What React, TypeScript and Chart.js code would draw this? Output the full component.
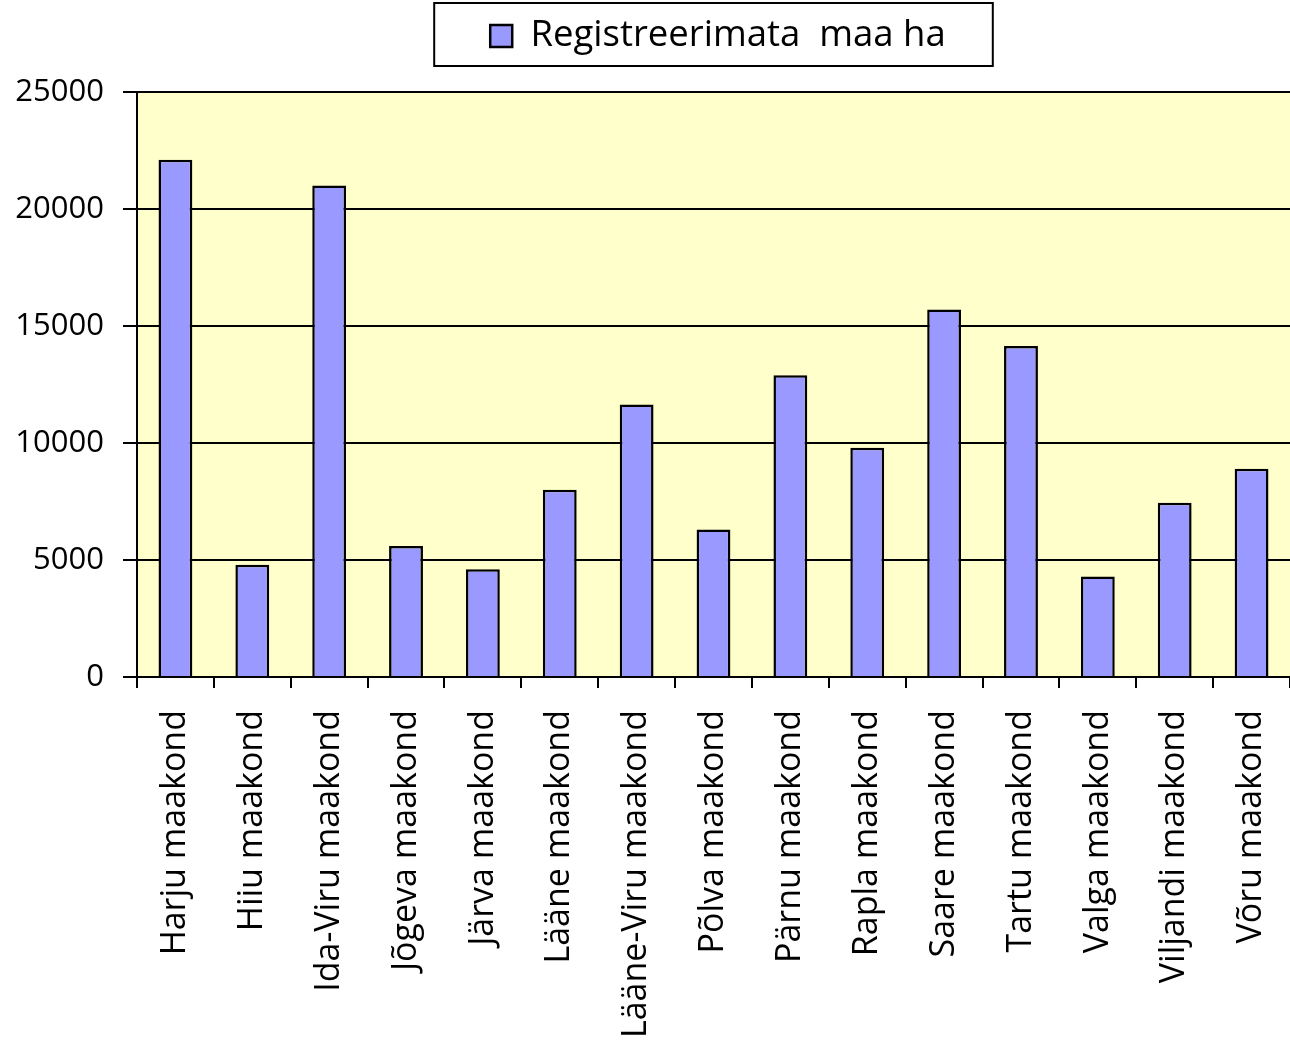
import React, { useEffect, useRef } from "react";
import { Chart, registerables } from "chart.js";

Chart.register(...registerables);

const categories = [
  "Harju maakond",
  "Hiiu maakond",
  "Ida-Viru maakond",
  "Jõgeva maakond",
  "Järva maakond",
  "Lääne maakond",
  "Lääne-Viru maakond",
  "Põlva maakond",
  "Pärnu maakond",
  "Rapla maakond",
  "Saare maakond",
  "Tartu maakond",
  "Valga maakond",
  "Viljandi maakond",
  "Võru maakond",
];

const seriesLabel = "Registreerimata  maa ha";

const seriesValues = [
  22100, 4800, 21000, 5600, 4600, 8000, 11650, 6300, 12900, 9800, 15700, 14150,
  4300, 7450, 8900,
];

const yTickValues = [0, 5000, 10000, 15000, 20000, 25000];

const FONT = "Open Sans";

const plotBackground = {
  id: "plotBackground",
  beforeDraw(chart: any) {
    const { ctx, chartArea: a } = chart;
    ctx.save();
    ctx.fillStyle = "#FFFFCC";
    ctx.fillRect(a.left, a.top, a.right - a.left, a.bottom - a.top);
    ctx.restore();
  },
};

const legendFrame = {
  id: "legendFrame",
  afterLayout(chart: any) {
    const lg = chart.legend;
    if (!lg) return;
    lg.left += 73;
    lg.right += 73;
    lg.top -= 27.75;
    lg.bottom -= 27.75;
  },
  afterDraw(chart: any) {
    const lg = chart.legend;
    if (!lg || !lg.legendHitBoxes || !lg.legendHitBoxes.length) return;
    const hb = lg.legendHitBoxes[0];
    const { ctx } = chart;
    const cy = hb.top + hb.height / 2;
    ctx.save();
    ctx.strokeStyle = "#000";
    ctx.lineWidth = 2;
    ctx.strokeRect(hb.left - 56, cy - 33, hb.width + 103, 63);
    ctx.restore();
  },
};

export default function App() {
  const canvasRef = useRef<HTMLCanvasElement | null>(null);

  useEffect(() => {
    document.body.style.margin = "0";
    const canvas = canvasRef.current;
    if (!canvas) return;
    Chart.defaults.color = "#000";
    Chart.defaults.font.family = FONT;

    const chart = new Chart(canvas, {
      type: "bar",
      data: {
        labels: categories,
        datasets: [
          {
            label: seriesLabel,
            data: seriesValues,
            backgroundColor: "#9999FF",
            borderColor: "#000000",
            borderWidth: 2.5,
            categoryPercentage: 1,
            barPercentage: 0.44,
          },
        ],
      },
      options: {
        animation: false,
        responsive: true,
        maintainAspectRatio: false,
        layout: { padding: 0 },
        plugins: {
          tooltip: { enabled: false },
          legend: {
            display: true,
            position: "top",
            labels: {
              boxWidth: 22,
              boxHeight: 22,
              padding: 45.5,
              color: "#000",
              font: { family: FONT, size: 36.5 },
            },
          },
        },
        scales: {
          x: {
            grid: {
              display: true,
              drawOnChartArea: false,
              drawTicks: true,
              tickLength: 11,
              offset: true,
              color: "#000",
              lineWidth: 2,
            },
            border: { display: true, color: "#000", width: 2 },
            ticks: {
              minRotation: 90,
              maxRotation: 90,
              autoSkip: false,
              padding: 22,
              color: "#000",
              font: { family: FONT, size: 34 },
            },
            afterFit(scale: any) {
              scale.height = 368;
              scale.paddingLeft = 0;
              scale.paddingRight = 0;
            },
          },
          y: {
            min: yTickValues[0],
            max: yTickValues[yTickValues.length - 1],
            grid: {
              display: true,
              drawTicks: true,
              tickLength: 14,
              color: "#000",
              lineWidth: 2,
            },
            border: { display: true, color: "#000", width: 2 },
            ticks: {
              stepSize: yTickValues[1] - yTickValues[0],
              padding: 19,
              color: "#000",
              font: { family: FONT, size: 31 },
              callback: (v: any) => String(v),
            },
            afterFit(scale: any) {
              scale.width = 137;
            },
          },
        },
      },
      plugins: [plotBackground, legendFrame],
    });

    return () => chart.destroy();
  }, []);

  return (
    <div style={{ width: 1290, height: 1045, position: "relative" }}>
      <canvas ref={canvasRef} />
    </div>
  );
}
